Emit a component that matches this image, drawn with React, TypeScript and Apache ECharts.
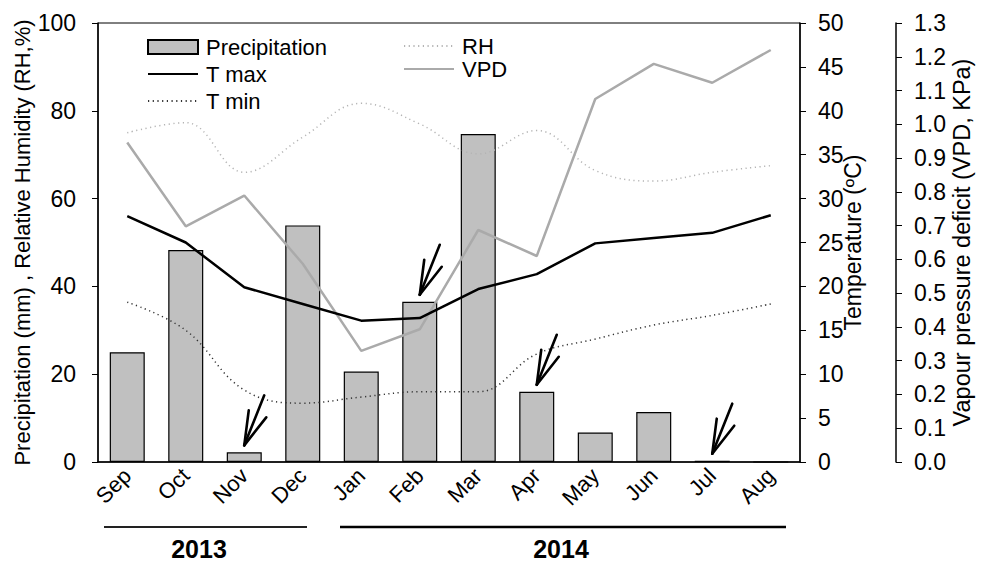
import React, { useEffect, useRef } from "react";
import * as echarts from "echarts";

const months = ["Sep", "Oct", "Nov", "Dec", "Jan", "Feb", "Mar", "Apr", "May", "Jun", "Jul", "Aug"];
const precipitation = [25.0, 48.3, 2.2, 53.9, 20.6, 36.5, 74.7, 16.0, 6.7, 11.4, 0.3, 0];
const tMax = [28.0, 25.0, 19.9, 18.0, 16.1, 16.4, 19.7, 21.4, 24.9, 25.5, 26.1, 28.1];
const tMin = [18.2, 15.0, 8.2, 6.7, 7.4, 8.0, 8.0, 12.3, 14.0, 15.6, 16.7, 18.0];
const rh = [75, 77.3, 66, 74, 81.7, 77, 70.2, 75.5, 66.4, 64, 66, 67.5];
const vpd = [0.946, 0.698, 0.789, 0.587, 0.329, 0.393, 0.687, 0.61, 1.075, 1.179, 1.123, 1.22];
const arrowMonths = ["Nov", "Feb", "Apr", "Jul"];
const years = ["2013", "2014"];

const FONT = "'Liberation Sans', Arial, sans-serif";

export default function App() {
  const ref = useRef<HTMLDivElement>(null);
  useEffect(() => {
    document.body.style.margin = "0";
    const chart = echarts.init(ref.current!, null, { renderer: "svg" });
    const arrowData = arrowMonths.map((m) => {
      const i = months.indexOf(m);
      return [i, precipitation[i]];
    });
    const hideSym = { opacity: 0 };
    const legendText = { fontSize: 22, fontFamily: FONT, color: "#000", padding: [0, 0, 0, 3] };
    const option: any = {
      animation: false,
      backgroundColor: "#fff",
      textStyle: { fontFamily: FONT, color: "#000" },
      grid: {
        left: 98,
        right: 183,
        top: 23,
        bottom: 102,
        show: true,
        borderColor: "#000",
        borderWidth: 1,
        backgroundColor: "transparent",
      },
      legend: [
        {
          orient: "vertical",
          left: 142,
          top: 31,
          itemWidth: 50,
          itemHeight: 14,
          itemGap: 5,
          textStyle: legendText,
          data: [
            { name: "Precipitation", icon: "rect" },
            { name: "T max", itemStyle: hideSym },
            { name: "T min", itemStyle: hideSym },
          ],
        },
        {
          orient: "vertical",
          left: 398,
          top: 30,
          itemWidth: 50,
          itemHeight: 14,
          itemGap: 1,
          textStyle: legendText,
          data: [
            { name: "RH", itemStyle: hideSym },
            { name: "VPD", itemStyle: hideSym },
          ],
        },
      ],
      xAxis: {
        type: "category",
        data: months,
        boundaryGap: true,
        axisLine: { lineStyle: { color: "#000", width: 1.5 } },
        axisTick: { alignWithLabel: true, length: 6, lineStyle: { color: "#000" } },
        axisLabel: { rotate: 45, fontSize: 22, color: "#000", margin: 10, fontFamily: FONT },
        splitLine: { show: false },
      },
      yAxis: [
        {
          type: "value",
          position: "left",
          min: 0,
          max: 100,
          interval: 20,
          name: "Precipitation (mm) , Relative Humidity (RH,%)",
          nameLocation: "middle",
          nameGap: 65,
          nameMoveOverlap: false,
          nameTextStyle: { fontSize: 22, color: "#000", fontFamily: FONT },
          axisLine: { show: true, lineStyle: { color: "#000", width: 1.5 } },
          axisTick: { show: true, length: 6, lineStyle: { color: "#000" } },
          axisLabel: { fontSize: 23, color: "#000", margin: 22, fontFamily: FONT },
          splitLine: { show: false },
        },
        {
          type: "value",
          position: "right",
          min: 0,
          max: 50,
          interval: 5,
          name: "Temperature (ºC)",
          nameLocation: "middle",
          nameGap: 41,
          nameMoveOverlap: false,
          nameTextStyle: { fontSize: 23, color: "#000", fontFamily: FONT },
          axisLine: { show: true, lineStyle: { color: "#000", width: 1.5 } },
          axisTick: { show: true, length: 6, lineStyle: { color: "#000" } },
          axisLabel: { fontSize: 23, color: "#000", margin: 18, fontFamily: FONT },
          splitLine: { show: false },
        },
        {
          type: "value",
          position: "right",
          offset: 96,
          min: 0,
          max: 1.3,
          interval: 0.1,
          name: "Vapour pressure deficit (VPD, KPa)",
          nameLocation: "middle",
          nameGap: 54,
          nameMoveOverlap: false,
          nameTextStyle: { fontSize: 23.5, color: "#000", fontFamily: FONT },
          axisLine: { show: true, lineStyle: { color: "#000", width: 1.5 } },
          axisTick: { show: true, length: 6, lineStyle: { color: "#000" } },
          axisLabel: {
            fontSize: 23,
            color: "#000",
            margin: 18,
            fontFamily: FONT,
            formatter: (v: number) => v.toFixed(1),
          },
          splitLine: { show: false },
        },
      ],
      series: [
        {
          name: "Precipitation",
          type: "bar",
          data: precipitation,
          barWidth: 35,
          itemStyle: { color: "#c0c0c0", borderColor: "#000", borderWidth: 1.2 },
          z: 1,
        },
        {
          name: "RH",
          type: "line",
          yAxisIndex: 0,
          data: rh,
          smooth: 0.4,
          symbol: "none",
          lineStyle: { color: "#b4b4b4", width: 1.5, type: [1.2, 3.5] },
          itemStyle: { color: "#b4b4b4" },
          z: 2,
        },
        {
          name: "T min",
          type: "line",
          yAxisIndex: 1,
          data: tMin,
          smooth: 0.4,
          symbol: "none",
          lineStyle: { color: "#333", width: 1.5, type: [1.2, 3.5] },
          itemStyle: { color: "#333" },
          z: 2,
        },
        {
          name: "VPD",
          type: "line",
          yAxisIndex: 2,
          data: vpd,
          symbol: "none",
          lineStyle: { color: "#aaaaaa", width: 2.5 },
          itemStyle: { color: "#aaaaaa" },
          z: 3,
        },
        {
          name: "T max",
          type: "line",
          yAxisIndex: 1,
          data: tMax,
          symbol: "none",
          lineStyle: { color: "#000", width: 2.5 },
          itemStyle: { color: "#000" },
          z: 4,
        },
        {
          name: "arrows",
          type: "custom",
          xAxisIndex: 0,
          yAxisIndex: 0,
          data: arrowData,
          encode: { x: 0, y: 1 },
          z: 5,
          renderItem: (params: any, api: any) => {
            const p = api.coord([api.value(0), api.value(1)]);
            const tx = p[0];
            const ty = p[1] - 7;
            const st = { stroke: "#000", lineWidth: 2.6, lineCap: "round" };
            return {
              type: "group",
              children: [
                { type: "line", shape: { x1: tx, y1: ty, x2: tx + 20, y2: ty - 50 }, style: st },
                { type: "line", shape: { x1: tx, y1: ty, x2: tx + 4.5, y2: ty - 35 }, style: st },
                { type: "line", shape: { x1: tx, y1: ty, x2: tx + 22, y2: ty - 28 }, style: st },
              ],
            };
          },
        },
      ],
      graphic: [
        { type: "line", shape: { x1: 104, y1: 527, x2: 307, y2: 527 }, style: { stroke: "#222", lineWidth: 2 } },
        { type: "line", shape: { x1: 340, y1: 527, x2: 786, y2: 527 }, style: { stroke: "#000", lineWidth: 2.5 } },
        {
          type: "text",
          x: 199,
          y: 549,
          style: { text: years[0], font: `bold 25px ${FONT}`, fill: "#000", align: "center", verticalAlign: "middle" },
        },
        {
          type: "text",
          x: 561,
          y: 549,
          style: { text: years[1], font: `bold 25px ${FONT}`, fill: "#000", align: "center", verticalAlign: "middle" },
        },
      ],
    };
    chart.setOption(option);
    return () => chart.dispose();
  }, []);
  return <div ref={ref} style={{ position: "absolute", left: 0, top: 0, width: 983, height: 564 }} />;
}
